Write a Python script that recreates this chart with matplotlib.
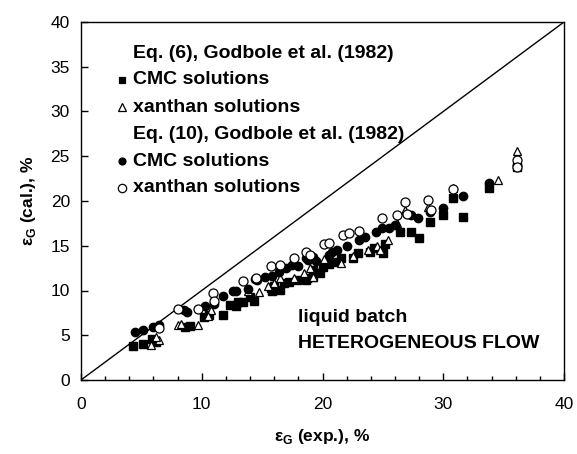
import matplotlib
matplotlib.use('Agg')
import matplotlib.pyplot as plt
from matplotlib.ticker import MultipleLocator

plt.rcParams['font.family'] = ['Liberation Sans', 'DejaVu Sans']
plt.rcParams['mathtext.fontset'] = 'custom'
plt.rcParams['mathtext.rm'] = 'Liberation Sans'
plt.rcParams['mathtext.bf'] = 'Liberation Sans:bold'

# Eq. (6), Godbole et al. (1982) - CMC solutions
cmc6_x = [4.3, 5.1, 5.9, 6.2, 8.6, 9.0, 10.2, 10.6, 11.8, 12.3, 12.8, 13.0, 13.4,
          14.0, 14.3, 15.7, 15.8, 16.0, 16.5, 16.8, 17.2, 17.9, 18.7, 18.6, 19.2,
          19.2, 19.8, 20.0, 20.5, 21.0, 21.5, 22.5, 22.9, 23.9, 24.3, 25.0, 25.2,
          26.4, 27.3, 28.0, 28.9, 30.0, 30.8, 31.6, 33.8, 36.1]
cmc6_y = [3.8, 4.0, 4.6, 4.3, 5.9, 6.0, 7.0, 7.3, 7.3, 8.4, 8.3, 8.7, 8.7,
          9.3, 8.8, 10.3, 10.0, 10.5, 10.1, 10.8, 11.0, 11.2, 11.4, 11.2, 11.5,
          12.3, 12.0, 12.6, 13.0, 13.2, 13.6, 13.6, 14.2, 14.3, 14.8, 14.2, 15.2,
          16.5, 16.5, 15.9, 17.6, 18.4, 20.3, 18.2, 21.4, 23.8]

# Eq. (6), Godbole et al. (1982) - xanthan solutions
xan6_x = [5.8, 6.5, 6.2, 8.0, 8.3, 9.7, 10.8, 10.5, 13.8, 14.7, 15.5, 16.0, 16.5,
          17.6, 18.5, 19.0, 19.2, 20.1, 21.5, 22.5, 23.8, 24.5, 24.8, 25.4, 26.2,
          26.8, 28.7, 30.8, 34.5, 36.1, 36.1]
xan6_y = [3.9, 4.5, 4.8, 6.1, 6.3, 6.1, 7.8, 7.2, 10.0, 9.8, 10.5, 10.8, 11.4,
          11.4, 12.0, 12.5, 11.5, 13.5, 13.1, 13.8, 14.5, 15.0, 14.5, 15.6, 17.5,
          19.0, 19.3, 21.5, 22.3, 25.6, 24.5]

# Eq. (10), Godbole et al. (1982) - CMC solutions
cmc10_x = [4.5, 5.1, 6.0, 6.5, 8.5, 8.8, 10.3, 11.0, 11.8, 12.6, 12.8, 13.8, 14.4,
           14.6, 15.2, 15.8, 16.4, 17.0, 17.5, 18.0, 18.6, 18.8, 19.2, 19.5, 20.5,
           20.8, 21.2, 22.0, 23.0, 23.5, 24.4, 24.9, 25.5, 26.0, 27.3, 27.9, 28.9,
           30.0, 31.6, 33.8, 36.1]
cmc10_y = [5.4, 5.6, 5.9, 6.1, 7.8, 7.6, 8.3, 8.5, 9.4, 10.0, 9.9, 10.2, 11.3,
           11.2, 11.5, 11.6, 12.1, 12.5, 12.8, 12.7, 13.6, 13.4, 13.7, 13.3, 14.0,
           14.3, 14.5, 15.0, 15.6, 16.0, 16.5, 17.0, 17.0, 17.3, 18.4, 18.1, 18.8,
           19.2, 20.6, 22.0, 24.0]

# Eq. (10), Godbole et al. (1982) - xanthan solutions
xan10_x = [6.5, 8.0, 9.7, 10.9, 11.0, 13.4, 14.5, 15.7, 16.5, 17.6, 18.6, 19.0,
           20.1, 20.5, 21.7, 22.2, 23.0, 24.9, 26.2, 26.8, 27.0, 28.7, 29.0, 30.8,
           36.1, 36.1]
xan10_y = [5.8, 7.9, 7.9, 9.7, 8.8, 11.1, 11.4, 12.7, 12.8, 13.6, 14.3, 14.0,
           15.2, 15.3, 16.2, 16.4, 16.6, 18.1, 18.4, 19.9, 18.6, 20.1, 19.0, 21.3,
           24.6, 23.8]

fig = plt.figure(figsize=(5.77, 4.54), dpi=100)
ax = fig.add_axes([81 / 577, 1 - 380 / 454, 483 / 577, 358 / 454])

# 1:1 line
ax.plot([0, 40], [0, 40], color='black', lw=1.0, zorder=1)

ax.plot(cmc6_x, cmc6_y, 's', ms=5.5, mfc='black', mec='black', ls='none', zorder=3)
ax.plot(xan6_x, xan6_y, '^', ms=6, mfc='white', mec='black', mew=0.9, ls='none', zorder=3)
ax.plot(cmc10_x, cmc10_y, 'o', ms=6, mfc='black', mec='black', ls='none', zorder=3)
ax.plot(xan10_x, xan10_y, 'o', ms=6.5, mfc='white', mec='black', mew=0.9, ls='none', zorder=3)

ax.set_xlim(0, 40)
ax.set_ylim(0, 40)
ax.xaxis.set_major_locator(MultipleLocator(10))
ax.xaxis.set_minor_locator(MultipleLocator(2))
ax.yaxis.set_major_locator(MultipleLocator(5))
ax.tick_params(which='major', direction='in', length=5, width=1.0, labelsize=12.5, pad=8)
ax.tick_params(which='minor', direction='in', length=3.2, width=1.0)
ax.tick_params(axis='x', pad=12)
ax.tick_params(axis='y', which='minor', left=False)
for s in ax.spines.values():
    s.set_linewidth(1.0)

ax.set_xlabel(r'ε$_\mathbf{G}$ (exp.), %', fontsize=12.5, fontweight='bold', labelpad=11)
ax.set_ylabel(r'ε$_\mathbf{G}$ (cal.), %', fontsize=12.5, fontweight='bold', labelpad=9)

# hand-placed legend
tx = 133 / 577
mx = 122 / 577
rows = [(53, None, 'Eq. (6), Godbole et al. (1982)'),
        (80, ('s', 'black', 5), 'CMC solutions'),
        (107, ('^', 'white', 5.5), 'xanthan solutions'),
        (134, None, 'Eq. (10), Godbole et al. (1982)'),
        (161, ('o', 'black', 5), 'CMC solutions'),
        (188, ('o', 'white', 6), 'xanthan solutions')]
for py, mk, label in rows:
    fy = 1 - py / 454
    fig.text(tx, fy, label, fontsize=14, fontweight='bold', va='center', ha='left')
    if mk is not None:
        fig.add_artist(plt.Line2D([mx], [fy], marker=mk[0], ms=mk[2], mfc=mk[1],
                                  mec='black', mew=0.9, ls='none',
                                  transform=fig.transFigure))

fig.text(298 / 577, 1 - 318 / 454, 'liquid batch', fontsize=14, fontweight='bold', va='center')
fig.text(298 / 577, 1 - 344 / 454, 'HETEROGENEOUS FLOW', fontsize=14, fontweight='bold', va='center')

fig.savefig('out.png', dpi=100)
